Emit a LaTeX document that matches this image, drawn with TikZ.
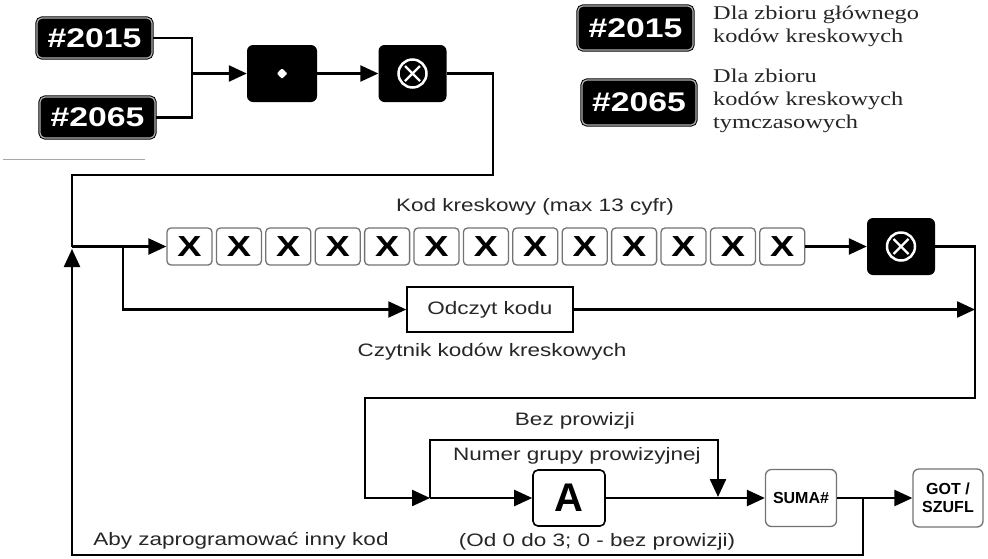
\documentclass[tikz,border=0pt]{standalone}
\usepackage{fontspec}
\setmainfont{Liberation Sans}
\newfontfamily\sansw[FakeStretch=1.25]{Liberation Sans}
\newfontfamily\serifw[FakeStretch=1.25]{Liberation Serif}
\newfontfamily\sansn{Liberation Sans}
\usetikzlibrary{arrows.meta,calc}
\begin{document}
\begin{tikzpicture}[x=1pt,y=-1pt,
 conn/.style={line width=2.4pt},
 arr/.style={conn,-{Triangle[length=18pt,width=16pt]}},
 key/.style={draw=black,line width=1pt,double=black!30,double distance=1.2pt,fill=black,
   rounded corners=5pt,inner sep=0pt,text=white,font=\sansw\bfseries\fontsize{27}{27}\selectfont},
 bkey/.style={fill=black,rounded corners=6pt,inner sep=0pt},
 xkey/.style={draw=black!55,line width=1.3pt,fill=white,rounded corners=4pt,
   minimum width=45pt,minimum height=37pt,inner sep=0pt,font=\sansw\bfseries\fontsize{29}{29}\selectfont},
 gkey/.style={draw=black!55,line width=1.3pt,fill=white,rounded corners=6pt,
   minimum width=71pt,minimum height=57pt,inner sep=0pt,align=center,
   font=\sansn\bfseries\fontsize{16}{18}\selectfont},
 ox/.style={bkey,minimum width=68pt,minimum height=57pt,path picture={
   \draw[white,line width=2.5pt] (path picture bounding box.center) circle[radius=14pt];
   \draw[white,line width=2.2pt]
     ([shift={(-7.5pt,-7.5pt)}]path picture bounding box.center) -- ([shift={(7.5pt,7.5pt)}]path picture bounding box.center)
     ([shift={(-7.5pt,7.5pt)}]path picture bounding box.center) -- ([shift={(7.5pt,-7.5pt)}]path picture bounding box.center);}},
 lbl/.style={inner sep=0pt,text=black!85,font=\sansw\fontsize{18}{20}\selectfont},
 leg/.style={inner sep=0pt,anchor=west,align=left,text=black!85,font=\serifw\fontsize{19.5}{23}\selectfont}
]
\useasboundingbox[fill=white] (0,0) rectangle (988,558);

% top-left keys
\node[key,minimum width=115pt,minimum height=40pt] (k2015) at (94.5,38) {\#2015};
\node[key,minimum width=115pt,minimum height=41pt] (k2065) at (97.5,117.5) {\#2065};
\node[bkey,minimum width=70pt,minimum height=57pt,path picture={
   \fill[white] ([shift={(-4.5pt,-4.5pt)}]path picture bounding box.center) rectangle ++(9pt,9pt);}] (dot) at (282,73.5) {};
\node[ox] (ox1) at (412.5,73.5) {};

% legend
\node[key,minimum width=115pt,minimum height=44pt] (L2015) at (635.5,28) {\#2015};
\node[key,minimum width=114pt,minimum height=45pt] (L2065) at (639,102.5) {\#2065};
\node[leg] (t1) at (713,26.5) {Dla zbioru głównego\\kodów kreskowych};
\node[leg] (t2) at (713,100.5) {Dla zbioru\\kodów kreskowych\\tymczasowych};

\draw[black!35,line width=1pt] (3,159) -- (145,159);

% code keys
\foreach \i in {0,...,12} \node[xkey] (x\i) at (189.5+49.4*\i,246.5) {X};
\node[lbl] (kodlbl) at (535,207) {Kod kreskowy (max 13 cyfr)};
\node[ox] (ox2) at (901,246.5) {};
\node[draw=black,line width=1.5pt,fill=white,minimum width=166pt,minimum height=45pt,inner sep=0pt,
      text=black!85,font=\sansw\fontsize{18}{20}\selectfont] (odczyt) at (490,309.5) {Odczyt kodu};
\node[lbl] (czyt) at (492,352) {Czytnik kodów kreskowych};

% bottom row
\node[draw=black,line width=1.6pt,fill=white,rounded corners=5pt,minimum width=72pt,minimum height=56pt,
      inner sep=0pt,font=\sansn\bfseries\fontsize{40}{40}\selectfont] (A) at (569,498) {A};
\node[gkey] (suma) at (801,498) {SUMA\#};
\node[gkey,minimum width=70pt,minimum height=58pt] (got) at (948,498) {GOT /\\SZUFL};
\node[lbl] (bez) at (575,421) {Bez prowizji};
\node[lbl] (num) at (577,456) {Numer grupy prowizyjnej};
\node[lbl] (od) at (597,542) {(Od 0 do 3; 0 - bez prowizji)};
\node[lbl] (aby) at (241,541) {Aby zaprogramować inny kod};

% connectors
\coordinate (j1) at (192,73.5);
\draw[conn] (k2015.east) -| (j1) |- (k2065.east);
\draw[arr] (j1) -- (dot.west);
\draw[arr] (dot.east) -- (ox1.west);
\coordinate (r0) at (493,175);
\coordinate (j2) at (72,246.5);
\draw[conn] (ox1.east) -| (r0) -| (j2);
\draw[arr] (j2) -- (x0.west);
\coordinate (j3) at (123,246.5);
\draw[arr] (j3) |- (odczyt.west);
\draw[arr] (x12.east) -- (ox2.west);
\coordinate (r1) at (975,309.5);
\draw[arr] (odczyt.east) -- (r1);
\coordinate (r2) at (975,398);
\coordinate (l2) at (365,398);
\coordinate (j4) at (430,498);
\draw[arr] (ox2.east) -| (r2) -- (l2) |- (j4);
\draw[arr] (j4) -- (A.west);
\coordinate (b1) at (430,440);
\coordinate (b2) at (718,440);
\coordinate (j5) at (718,497);
\draw[arr] (j4) -- (b1) -- (b2) -- (j5);
\draw[arr] (A.east) -- (suma.west);
\draw[arr] (suma.east) -- (got.west);
\coordinate (j6) at (863,498);
\coordinate (bl) at (72,555);
\coordinate (j2u) at (72,249);
\draw[arr] (j6) |- (bl) -- (j2u);
\end{tikzpicture}
\end{document}
